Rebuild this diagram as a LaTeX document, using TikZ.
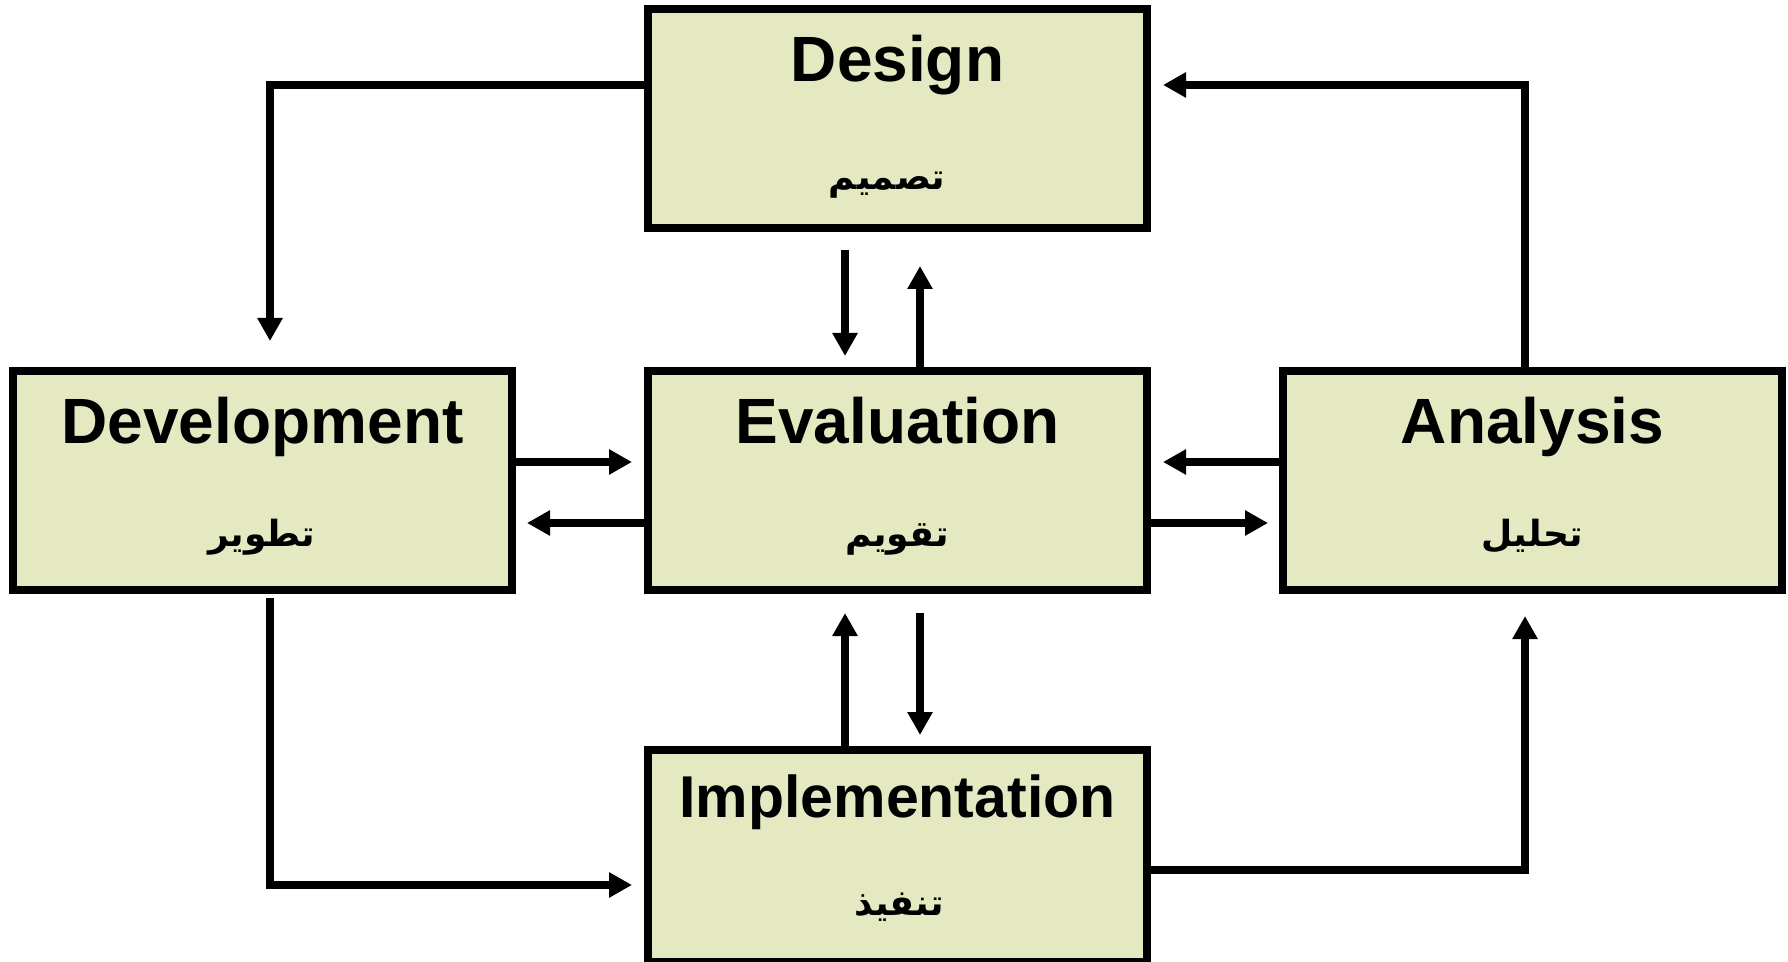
\documentclass[tikz,border=0pt]{standalone}
\usepackage{fontspec}
\setmainfont{Liberation Sans}
\newfontfamily\arabicfont[Script=Arabic]{DejaVu Sans}
\TeXXeTstate=1
\usetikzlibrary{arrows.meta}
\definecolor{boxfill}{RGB}{229,233,194}
\tikzset{
  box/.style={draw=black, fill=boxfill, line width=4pt, line join=miter, inner sep=0pt,
    minimum width=249.5pt, minimum height=109.5pt},
  title/.style={anchor=base, inner sep=0pt, font=\fontsize{32}{38}\selectfont\bfseries},
  arlabel/.style={anchor=base, inner sep=0pt, font=\fontsize{18}{23}\selectfont\arabicfont\bfseries},
  conn/.style={draw=black, line width=4pt, line join=miter, -{Triangle[length=11.5pt,width=12pt]}}
}
\begin{document}
\begin{tikzpicture}[x=0.5pt,y=-0.5pt]
\useasboundingbox (0,0) rectangle (1788,962);
% boxes
\node[box] (des) at (897.5,118.5) {};
\node[box] (dev) at (262.5,480.5) {};
\node[box] (eva) at (897.5,480.5) {};
\node[box] (ana) at (1532.5,480.5) {};
\node[box, minimum height=106pt] (imp) at (897.5,856) {};
% titles
\node[title] (desT) at (897.5,82) {Design};
\node[title] (devT) at (262.5,444) {Development};
\node[title] (evaT) at (897.5,444) {Evaluation};
\node[title] (anaT) at (1532.5,444) {Analysis};
\node[title, font=\fontsize{29.5}{36}\selectfont\bfseries] (impT) at (897.5,817) {Implementation};
% arabic labels
\node[arlabel] (desA) at (887,190) {\beginR تصميم\endR};
\node[arlabel] (devA) at (262,546) {\beginR تطوير\endR};
\node[arlabel] (evaA) at (897,546) {\beginR تقويم\endR};
\node[arlabel] (anaA) at (1532,546) {\beginR تحليل\endR};
\node[arlabel] (impA) at (899,915) {\beginR تنفيذ\endR};
% connectors
\draw[conn] ([yshift=16.75pt]des.west) -| ([xshift=3.75pt,yshift=13pt]dev.north);
\draw[conn] ([xshift=-3.75pt]ana.north) |- ([xshift=6pt,yshift=16.75pt]des.east);
\draw[conn] ([xshift=-26.25pt,yshift=-9pt]des.south) -- ([xshift=-26.25pt,yshift=5.5pt]eva.north);
\draw[conn] ([xshift=11.25pt]eva.north) -- ([xshift=11.25pt,yshift=-17pt]des.south);
\draw[conn] ([yshift=9.25pt]dev.east) -- ([xshift=-6pt,yshift=9.25pt]eva.west);
\draw[conn] ([yshift=-21.25pt]eva.west) -- ([xshift=5.5pt,yshift=-21.25pt]dev.east);
\draw[conn] ([yshift=9.25pt]ana.west) -- ([xshift=6pt,yshift=9.25pt]eva.east);
\draw[conn] ([yshift=-21.25pt]eva.east) -- ([xshift=-5.5pt,yshift=-21.25pt]ana.west);
\draw[conn] ([xshift=-26.25pt]imp.north) -- ([xshift=-26.25pt,yshift=-9.5pt]eva.south);
\draw[conn] ([xshift=11.25pt,yshift=-9.5pt]eva.south) -- ([xshift=11.25pt,yshift=5.5pt]imp.north);
\draw[conn] ([xshift=3.75pt,yshift=-2pt]dev.south) |- ([xshift=-6pt,yshift=-14.5pt]imp.west);
\draw[conn] ([yshift=-7pt]imp.east) -| ([xshift=-3.75pt,yshift=-11pt]ana.south);
\end{tikzpicture}
\end{document}
